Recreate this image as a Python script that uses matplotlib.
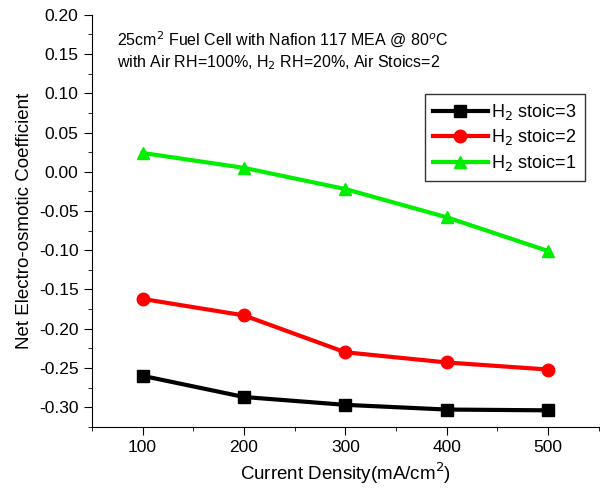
import matplotlib
matplotlib.use("Agg")
import matplotlib.pyplot as plt
from matplotlib.ticker import MultipleLocator

plt.rcParams['font.family'] = ['Liberation Sans', 'DejaVu Sans']

# data
current = [100, 200, 300, 400, 500]
stoic3 = [-0.260, -0.287, -0.297, -0.303, -0.304]
stoic2 = [-0.162, -0.183, -0.230, -0.243, -0.252]
stoic1 = [0.024, 0.005, -0.022, -0.058, -0.101]
labels = ['H$_2$ stoic=3', 'H$_2$ stoic=2', 'H$_2$ stoic=1']

fig = plt.figure(figsize=(6, 4.94), dpi=100)
ax = fig.add_axes([0.153, 0.136, 0.845, 0.834])

ax.plot(current, stoic3, color='black', marker='s', lw=3, ms=8, label=labels[0])
ax.plot(current, stoic2, color='red', marker='o', lw=3, ms=9, label=labels[1])
ax.plot(current, stoic1, color='#00ee00', marker='^', lw=3, ms=9, label=labels[2])

ax.set_xlim(50, 550)
ax.set_ylim(-0.325, 0.20)
ax.xaxis.set_major_locator(MultipleLocator(100))
ax.xaxis.set_minor_locator(MultipleLocator(50))
ax.yaxis.set_major_locator(MultipleLocator(0.05))
ax.yaxis.set_minor_locator(MultipleLocator(0.025))
ax.yaxis.set_major_formatter(lambda v, p: f"{v:.2f}")
ax.tick_params(which='major', direction='out', length=6, labelsize=12.5)
ax.tick_params(which='minor', direction='out', length=3)
ax.spines['top'].set_visible(False)
ax.spines['right'].set_visible(False)

ax.set_xlabel('Current Density(mA/cm$^2$)', fontsize=13.5)
ax.set_ylabel('Net Electro-osmotic Coefficient', fontsize=13.5)

ax.text(0.05, 0.965, '25cm$^2$ Fuel Cell with Nafion 117 MEA @ 80$^o$C\n'
        'with Air RH=100%, H$_2$ RH=20%, Air Stoics=2',
        transform=ax.transAxes, fontsize=11.5, va='top', linespacing=1.3)

leg = ax.legend(loc='upper right', bbox_to_anchor=(0.99, 0.83), fontsize=13,
                frameon=True, fancybox=False, edgecolor='black',
                handlelength=3.0, handletextpad=0.2, borderpad=0.45, labelspacing=0.3)
leg.get_frame().set_linewidth(1)

fig.savefig('out.png', dpi=100)
